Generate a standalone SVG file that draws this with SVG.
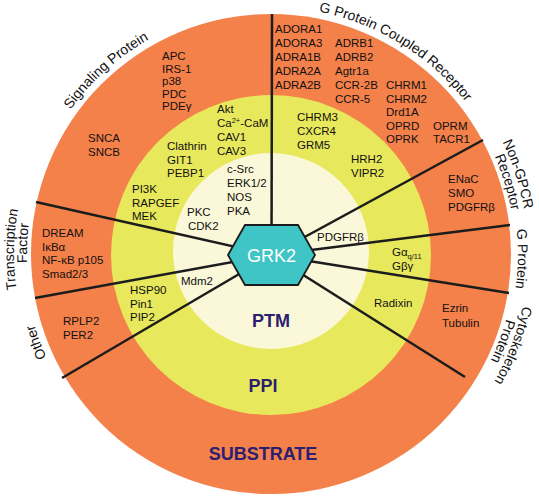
<svg xmlns="http://www.w3.org/2000/svg" width="539" height="499" viewBox="0 0 539 499">
<defs>
<style>
.it{font-family:"Liberation Sans",Arial,sans-serif;font-size:11.5px;fill:#111}
.lab{font-family:"Liberation Sans",Arial,sans-serif;font-size:14px;fill:#111}
.big{font-family:"Liberation Sans",Arial,sans-serif;font-size:18px;font-weight:bold;fill:#2b2070;text-anchor:middle}
.sp{stroke:#1c1c1c;stroke-width:2.5;fill:none;stroke-linecap:butt}
.sup{font-size:7.5px}
</style>
<path id="r247" d="M 271 501 A 247 247 0 1 1 271 7 A 247 247 0 1 1 271 501"/>
<path id="r244" d="M 271 498 A 244 244 0 1 1 271 10 A 244 244 0 1 1 271 498"/>
<path id="r257" d="M 271 511 A 257 257 0 1 1 271 -3 A 257 257 0 1 1 271 511"/>
</defs>
<rect width="539" height="499" fill="#ffffff"/>
<g id="rings">
<circle cx="271" cy="254" r="240" fill="#f4804a"/>
<circle cx="271" cy="255" r="160" fill="#e8e85c"/>
<circle cx="271" cy="251" r="98" fill="#faf8d8"/>
</g>
<g id="connectors">
<line class="sp" x1="271.5" y1="255" x2="272" y2="14"/>
<line class="sp" x1="271.5" y1="255" x2="483" y2="140"/>
<line class="sp" x1="271.5" y1="255" x2="510" y2="225"/>
<line class="sp" x1="271.5" y1="255" x2="509" y2="293"/>
<line class="sp" x1="271.5" y1="255" x2="465" y2="377"/>
<line class="sp" x1="271.5" y1="255" x2="62" y2="378"/>
<line class="sp" x1="271.5" y1="255" x2="35" y2="298"/>
<line class="sp" x1="271.5" y1="255" x2="36" y2="202"/>
</g>
<g id="layer-labels">
<text class="big" x="271" y="327">PTM</text>
<text class="big" x="263" y="392">PPI</text>
<text class="big" x="263" y="460">SUBSTRATE</text>
</g>
<g id="category-labels">
<text class="lab" text-anchor="middle"><textPath href="#r247" startOffset="594.9">Signaling Protein</textPath></text>
<text class="lab" text-anchor="middle"><textPath href="#r247" startOffset="911.8">G Protein Coupled Receptor</textPath></text>
<text class="lab" text-anchor="middle"><textPath href="#r257" startOffset="1130.3">Non-GPCR</textPath></text>
<text class="lab" text-anchor="middle"><textPath href="#r244" startOffset="1077.4">Receptor</textPath></text>
<text class="lab" text-anchor="middle"><textPath href="#r247" startOffset="1168.3">G Protein</textPath></text>
<text class="lab" text-anchor="middle"><textPath href="#r257" startOffset="1303.5">Cytoskeleton</textPath></text>
<text class="lab" text-anchor="middle"><textPath href="#r244" startOffset="1237.6">Protein</textPath></text>
<text class="lab" text-anchor="middle"><textPath href="#r247" startOffset="298.8">Other</textPath></text>
<text class="lab" text-anchor="middle"><textPath href="#r257" startOffset="408.2">Transcription</textPath></text>
<text class="lab" text-anchor="middle"><textPath href="#r244" startOffset="393.9">Factor</textPath></text>
</g>
<g id="signaling-protein">
<text class="it" x="162" y="60">APC</text>
<text class="it" x="162" y="72.5">IRS-1</text>
<text class="it" x="162" y="85">p38</text>
<text class="it" x="162" y="97.5">PDC</text>
<text class="it" x="162" y="110">PDEγ</text>
<text class="it" x="88" y="142">SNCA</text>
<text class="it" x="88" y="156">SNCB</text>
<text class="it" x="217" y="113">Akt</text>
<text class="it" x="217" y="127">Ca<tspan class="sup" dy="-4">2+</tspan><tspan dy="4">-CaM</tspan></text>
<text class="it" x="217" y="141">CAV1</text>
<text class="it" x="217" y="155">CAV3</text>
<text class="it" x="167" y="150">Clathrin</text>
<text class="it" x="167" y="163.5">GIT1</text>
<text class="it" x="167" y="177">PEBP1</text>
<text class="it" x="132" y="193">PI3K</text>
<text class="it" x="132" y="206.5">RAPGEF</text>
<text class="it" x="132" y="220">MEK</text>
<text class="it" x="227" y="173">c-Src</text>
<text class="it" x="227" y="187">ERK1/2</text>
<text class="it" x="227" y="201">NOS</text>
<text class="it" x="227" y="215">PKA</text>
<text class="it" x="187" y="216">PKC</text>
<text class="it" x="188" y="230">CDK2</text>
</g>
<g id="gpcr">
<text class="it" x="275" y="33">ADORA1</text>
<text class="it" x="275" y="47">ADORA3</text>
<text class="it" x="275" y="61">ADRA1B</text>
<text class="it" x="275" y="75">ADRA2A</text>
<text class="it" x="275" y="89">ADRA2B</text>
<text class="it" x="335" y="47">ADRB1</text>
<text class="it" x="335" y="61">ADRB2</text>
<text class="it" x="335" y="75">Agtr1a</text>
<text class="it" x="335" y="89">CCR-2B</text>
<text class="it" x="335" y="102.5">CCR-5</text>
<text class="it" x="386" y="89">CHRM1</text>
<text class="it" x="386" y="102.5">CHRM2</text>
<text class="it" x="386" y="116">Drd1A</text>
<text class="it" x="386" y="129.5">OPRD</text>
<text class="it" x="386" y="143">OPRK</text>
<text class="it" x="433" y="129.5">OPRM</text>
<text class="it" x="433" y="143">TACR1</text>
<text class="it" x="297" y="121">CHRM3</text>
<text class="it" x="297" y="134.5">CXCR4</text>
<text class="it" x="297" y="148.5">GRM5</text>
<text class="it" x="351" y="163">HRH2</text>
<text class="it" x="351" y="177">VIPR2</text>
</g>
<g id="non-gpcr-receptor">
<text class="it" x="448" y="183">ENaC</text>
<text class="it" x="448" y="197">SMO</text>
<text class="it" x="448" y="210.5">PDGFRβ</text>
<text class="it" x="317" y="241">PDGFRβ</text>
</g>
<g id="g-protein">
<text class="it" x="392" y="256">Gα<tspan class="sup" dy="3">q/11</tspan></text>
<text class="it" x="392" y="270">Gβγ</text>
</g>
<g id="cytoskeleton-protein">
<text class="it" x="374" y="307">Radixin</text>
<text class="it" x="442" y="312">Ezrin</text>
<text class="it" x="442" y="327">Tubulin</text>
</g>
<g id="transcription-factor">
<text class="it" x="42" y="237">DREAM</text>
<text class="it" x="42" y="250.5">IκBα</text>
<text class="it" x="42" y="264">NF-κB p105</text>
<text class="it" x="42" y="277.5">Smad2/3</text>
</g>
<g id="other">
<text class="it" x="181" y="285">Mdm2</text>
<text class="it" x="130" y="294">HSP90</text>
<text class="it" x="130" y="307.5">Pin1</text>
<text class="it" x="130" y="321">PIP2</text>
<text class="it" x="63" y="325">RPLP2</text>
<text class="it" x="63" y="338.5">PER2</text>
</g>
<g id="grk2">
<polygon points="228,255 245,225 298,225 315,255 298,285 245,285" fill="#3fc5c6" stroke="#1c1c1c" stroke-width="1.8"/>
<text x="271.5" y="262" text-anchor="middle" style="font-family:'Liberation Sans',Arial,sans-serif;font-size:18px;fill:#ffffff">GRK2</text>
</g>
</svg>
